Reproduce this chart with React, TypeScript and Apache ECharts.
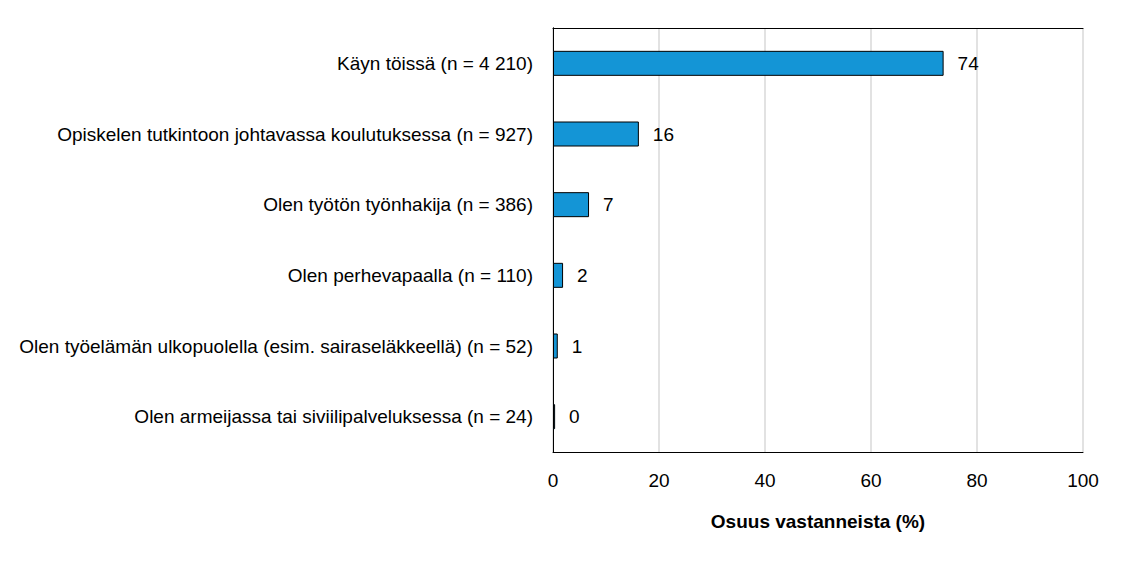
import { useEffect, useRef } from 'react';
import * as echarts from 'echarts';

// Response categories (top to bottom) and share of respondents (%)
const categories = [
  'Käyn töissä (n = 4 210)',
  'Opiskelen tutkintoon johtavassa koulutuksessa (n = 927)',
  'Olen työtön työnhakija (n = 386)',
  'Olen perhevapaalla (n = 110)',
  'Olen työelämän ulkopuolella (esim. sairaseläkkeellä) (n = 52)',
  'Olen armeijassa tai siviilipalveluksessa (n = 24)',
];
const shares = [73.7, 16.2, 6.8, 1.9, 0.9, 0.4];

const FONT = '"Liberation Sans", Arial, sans-serif';
const FS = 19;

export default function App() {
  const chartRef = useRef<HTMLDivElement>(null);

  useEffect(() => {
    if (!chartRef.current) return;
    const chart = echarts.init(chartRef.current, undefined, { renderer: 'svg' });

    const frame = { show: true, lineStyle: { color: '#000', width: 1 } };

    const option: echarts.EChartsOption = {
      animation: false,
      textStyle: { fontFamily: FONT },
      // body keeps its 8px margin, so the grid is offset by it
      grid: { left: 545, right: 39, top: 20, bottom: 101 },
      xAxis: [
        {
          type: 'value',
          min: 0,
          max: 100,
          interval: 20,
          name: 'Osuus vastanneista (%)',
          nameLocation: 'middle',
          nameGap: 60,
          nameTextStyle: { fontSize: FS, fontWeight: 'bold', color: '#000', fontFamily: FONT },
          axisLine: frame,
          axisTick: { show: false },
          axisLabel: { fontSize: FS, color: '#000', margin: 19, fontFamily: FONT },
          splitLine: { show: true, lineStyle: { color: '#d9d9d9', width: 1.5 } },
        },
        {
          type: 'value',
          position: 'top',
          min: 0,
          max: 100,
          axisLine: frame,
          axisTick: { show: false },
          axisLabel: { show: false },
          splitLine: { show: false },
        },
      ],
      yAxis: [
        {
          type: 'category',
          inverse: true,
          data: categories,
          axisLine: frame,
          axisTick: { show: false },
          axisLabel: { fontSize: FS, color: '#000', margin: 20, fontFamily: FONT },
        },
        {
          type: 'category',
          position: 'right',
          inverse: true,
          data: categories,
          axisLine: frame,
          axisTick: { show: false },
          axisLabel: { show: false },
        },
      ],
      series: [
        {
          type: 'bar',
          data: shares,
          barWidth: 25,
          itemStyle: { color: '#1495d6', borderColor: '#000', borderWidth: 1 },
          label: {
            show: true,
            position: 'right',
            distance: 14,
            fontSize: FS,
            color: '#000',
            fontFamily: FONT,
            formatter: (p: any) => String(Math.round(p.value)),
          },
        },
      ],
    };

    chart.setOption(option);
    return () => {
      chart.dispose();
    };
  }, []);

  return <div ref={chartRef} style={{ width: 1114, height: 545 }} />;
}
